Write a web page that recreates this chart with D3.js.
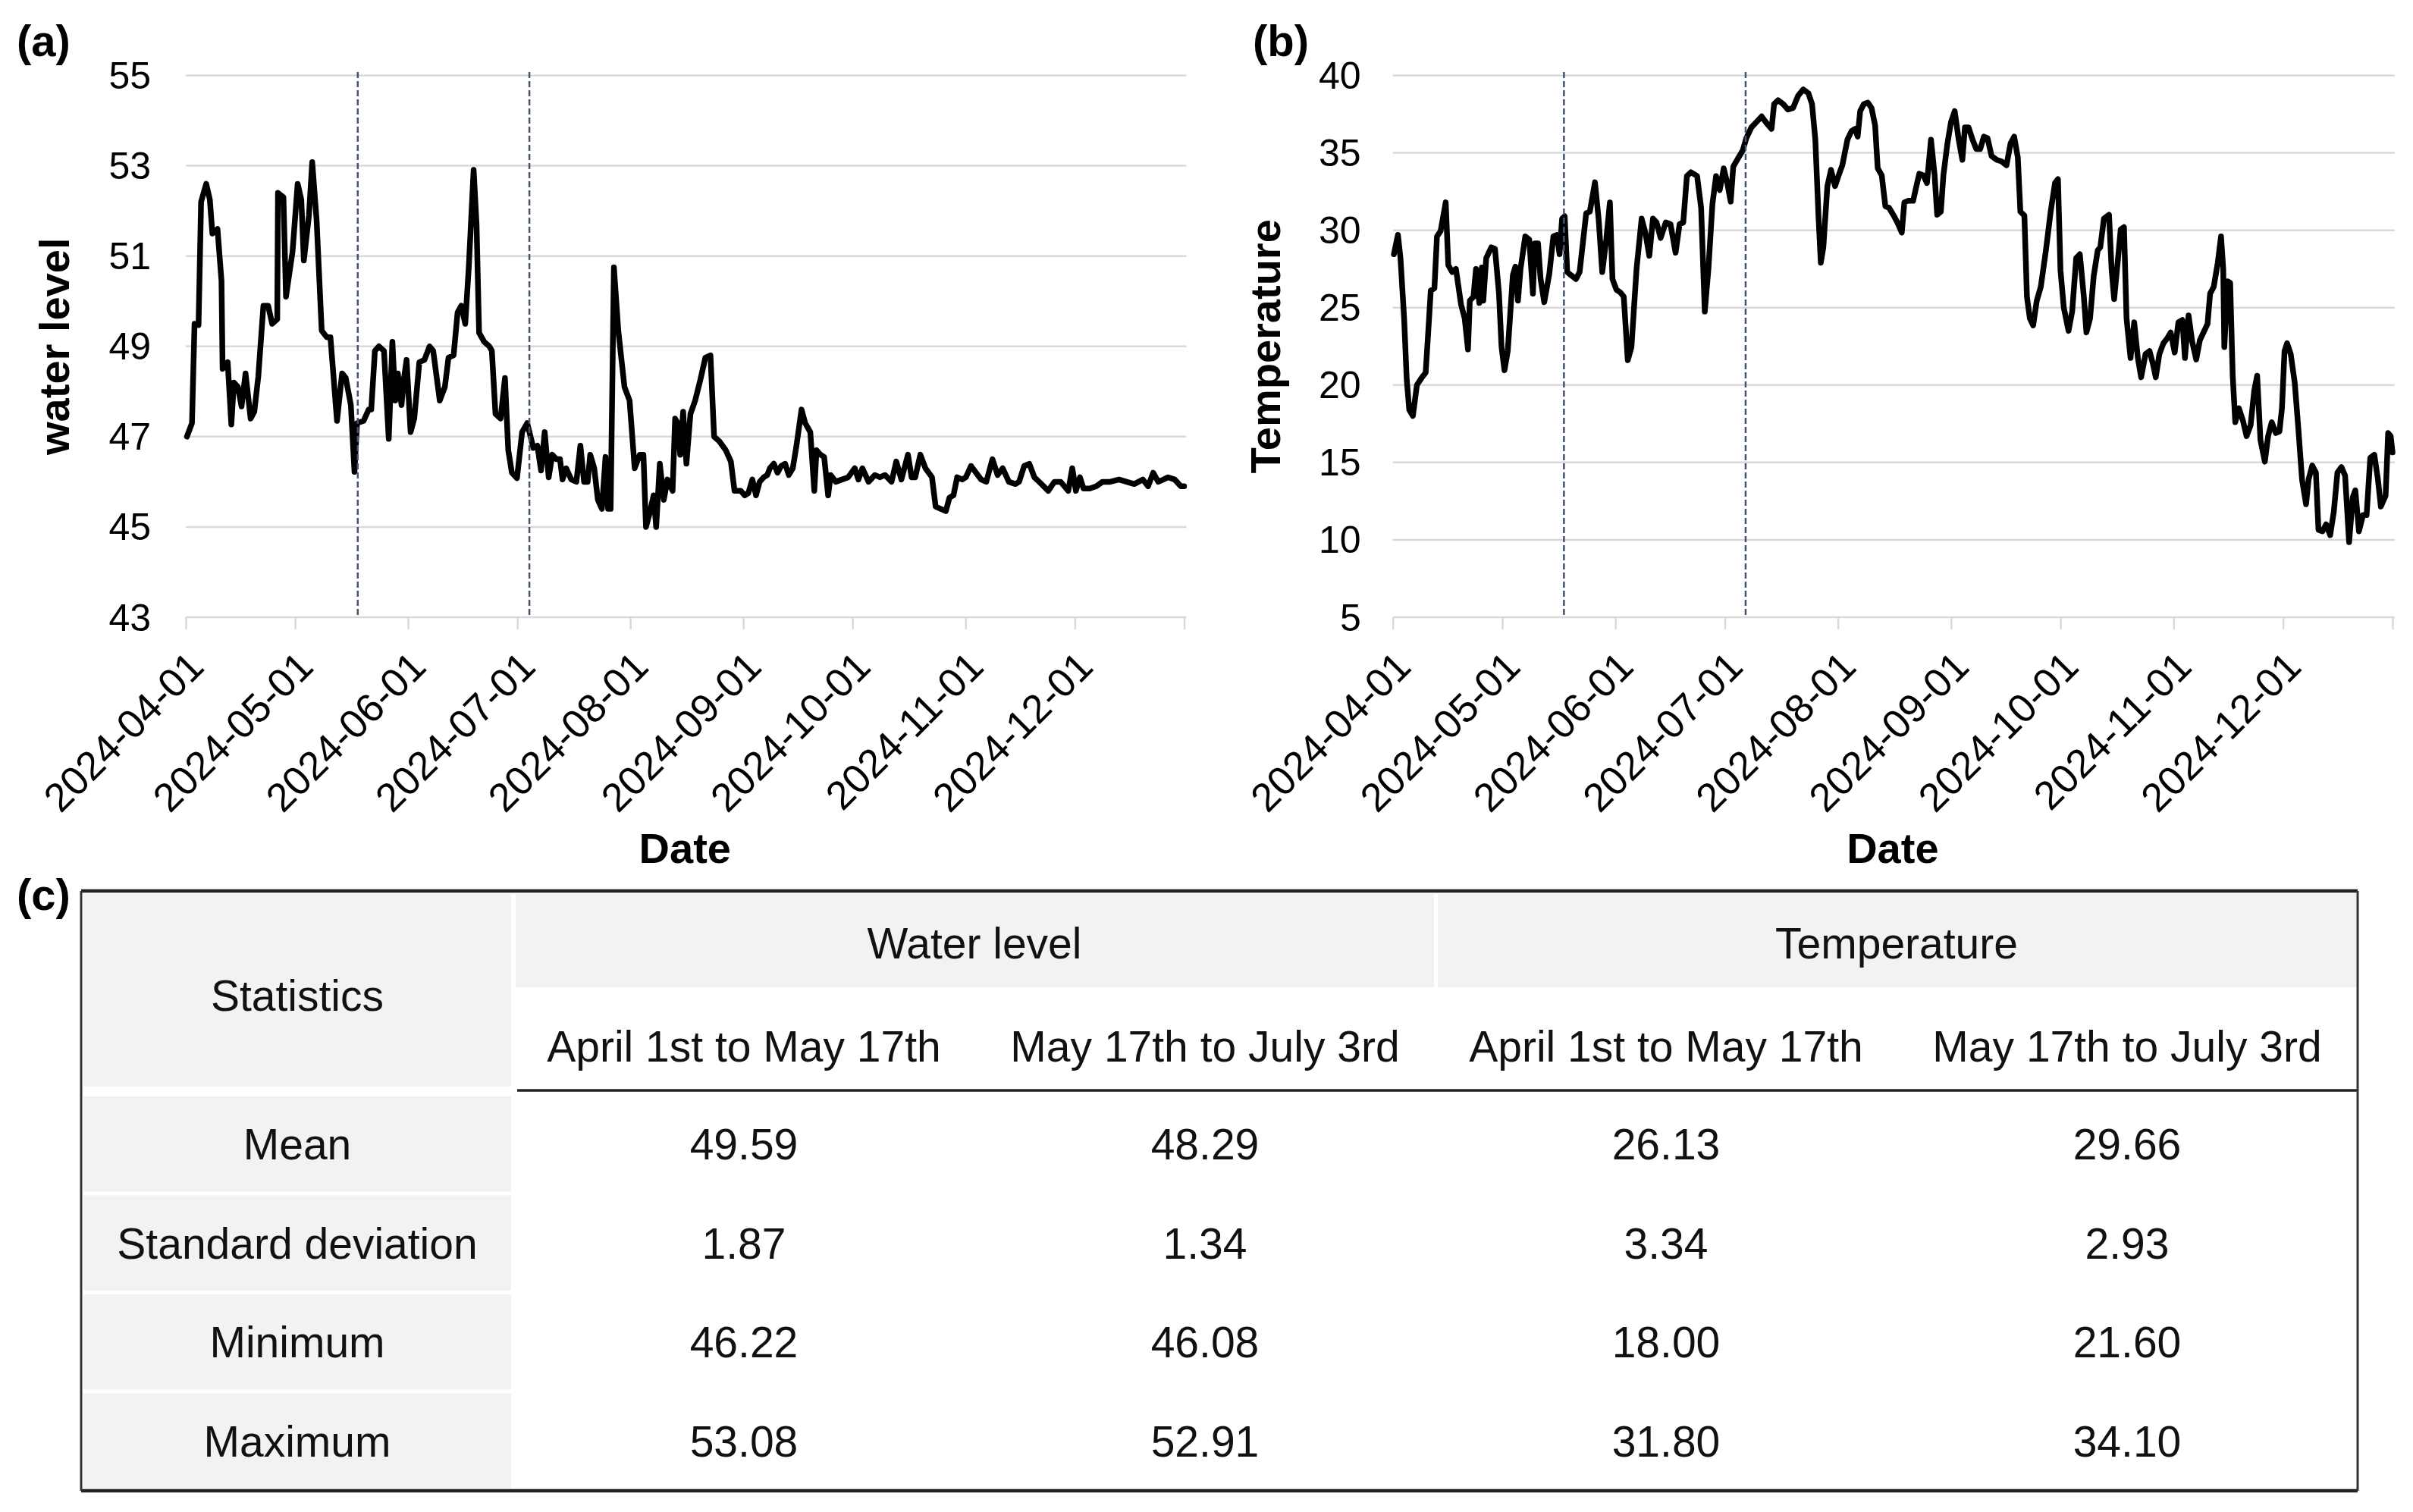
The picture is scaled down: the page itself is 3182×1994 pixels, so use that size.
<!DOCTYPE html>
<html><head><meta charset="utf-8">
<script src="https://cdn.jsdelivr.net/npm/d3@7"></script>
<style>
body{margin:0;background:#fff}
svg{display:block}
text{font-family:"Liberation Sans",Arial,Helvetica,sans-serif}
</style>
</head><body>
<svg id="chart" width="3182" height="1994"></svg>
<script>
// ---------- DATA (days counted from 2024-04-01) ----------
const levelDay = [0.3,1.7,2.4,3.5,4.2,5.6,6.6,7.3,8.7,9.8,10.1,11.5,12.5,13.2,14.3,15.3,16.4,17.8,18.8,19.9,21.3,22.6,23.7,25.1,25.3,26.8,27.5,29.3,30.7,31.7,32.4,33.8,34.7,35.9,37.3,38.7,39.7,41.5,42.9,43.9,45.3,46.3,47.0,48.8,50.2,50.9,51.9,53.0,54.4,55.7,56.7,57.5,58.2,59.2,59.9,60.6,61.7,62.7,64.1,65.5,66.9,67.9,69.7,71.1,72.1,73.5,74.6,75.6,76.7,77.7,79.0,79.8,80.5,81.9,83.3,84.0,85.0,86.4,87.6,88.5,89.5,90.9,92.3,93.7,95.4,96.5,97.5,98.5,99.6,100.6,101.7,102.7,103.4,104.4,105.8,107.2,108.3,109.3,110.3,111.0,112.1,113.1,114.2,115.2,115.9,116.6,117.5,118.7,120.4,121.8,123.2,124.6,125.6,126.3,127.3,128.4,129.1,130.1,131.2,132.2,133.6,134.3,135.0,135.7,136.5,137.4,138.5,139.8,141.2,142.6,144.0,145.0,146.4,148.2,149.6,150.6,152.3,153.4,154.4,155.5,156.5,157.5,158.6,159.6,160.3,161.4,162.4,163.4,164.5,165.5,166.6,167.6,169.0,170.0,171.4,172.5,173.1,174.2,175.2,176.3,177.0,178.4,180.1,181.8,183.6,184.6,185.7,187.4,189.1,190.5,191.9,193.7,195.0,196.4,198.2,199.2,200.2,201.6,203.0,204.8,205.8,207.2,208.6,209.6,210.7,211.7,213.1,214.1,215.5,216.9,218.3,219.7,221.4,222.8,224.2,225.9,227.7,228.7,230.1,231.5,232.9,234.2,236.7,238.4,240.1,242.2,243.3,244.3,245.4,246.4,248.1,249.9,251.6,253.7,256.1,258.2,260.3,262.7,264.1,265.5,266.9,268.3,269.6,271.4,273.1,274.0];
const levelValue = [47.0,47.3,49.5,49.47,52.2,52.6,52.25,51.5,51.6,50.45,48.5,48.65,47.27,48.2,48.1,47.67,48.4,47.4,47.55,48.33,49.9,49.9,49.5,49.6,52.4,52.3,50.1,51.1,52.6,52.25,50.9,51.9,53.08,51.8,49.35,49.2,49.2,47.35,48.4,48.3,47.7,46.22,47.3,47.35,47.6,47.6,48.9,49.0,48.9,46.95,49.1,47.8,48.4,47.7,48.3,48.7,47.1,47.4,48.65,48.7,49.0,48.9,47.8,48.1,48.75,48.8,49.75,49.9,49.5,50.8,52.91,51.7,49.3,49.1,49.0,48.9,47.5,47.4,48.3,46.7,46.2,46.08,47.1,47.3,46.75,46.8,46.25,47.1,46.1,46.6,46.5,46.5,46.05,46.3,46.05,46.0,46.8,46.0,46.0,46.6,46.3,45.6,45.4,46.55,45.4,45.4,50.75,49.35,48.1,47.8,46.3,46.6,46.6,45.0,45.3,45.7,45.0,46.4,45.6,46.05,45.8,47.4,47.3,46.6,47.55,46.4,47.5,47.8,48.25,48.75,48.8,47.0,46.9,46.7,46.45,45.8,45.8,45.7,45.75,46.05,45.7,46.0,46.1,46.15,46.3,46.4,46.2,46.35,46.4,46.15,46.3,46.8,47.6,47.3,47.1,45.8,46.7,46.6,46.55,45.7,46.15,46.0,46.05,46.1,46.3,46.05,46.3,46.0,46.15,46.1,46.15,46.0,46.45,46.05,46.6,46.1,46.1,46.6,46.3,46.1,45.45,45.4,45.35,45.65,45.7,46.1,46.05,46.1,46.35,46.2,46.05,46.0,46.5,46.15,46.3,46.0,45.95,46.0,46.35,46.4,46.1,46.0,45.8,46.0,46.0,45.8,46.3,45.8,46.1,45.85,45.85,45.9,46.0,46.0,46.05,46.0,45.95,46.05,45.9,46.2,46.0,46.05,46.1,46.05,45.9,45.9];

const tempDay = [0.3,1.4,2.1,3.1,3.8,4.5,5.5,6.6,8.0,9.0,9.7,10.4,11.4,12.1,13.1,14.5,15.2,16.3,17.3,18.7,19.7,20.6,21.1,22.1,22.8,23.7,24.4,24.8,25.6,27.0,28.0,29.1,29.8,30.6,31.5,32.9,33.6,34.3,35.0,36.3,37.4,38.4,38.9,39.8,40.5,41.5,42.9,44.0,45.0,45.7,46.4,47.1,47.8,48.8,50.2,51.2,53.0,54.0,55.4,56.4,57.4,58.5,59.5,60.2,61.3,62.3,63.3,64.4,65.4,66.8,68.2,69.2,70.3,71.3,72.3,73.4,74.8,76.1,77.5,78.6,79.6,80.6,81.7,83.4,84.5,85.5,86.5,87.6,88.6,89.6,90.7,91.7,92.6,93.3,94.5,95.9,96.9,98.3,99.7,101.1,102.5,103.8,104.5,105.6,107.0,108.3,109.7,111.1,112.5,113.9,114.9,115.8,116.7,117.3,118.0,119.1,120.1,121.2,122.2,123.2,124.6,125.7,126.7,127.4,128.1,129.1,130.2,131.2,132.2,132.9,134.0,135.0,136.0,137.4,138.5,139.5,140.2,141.2,142.6,143.7,144.3,145.4,146.4,147.5,148.5,149.2,150.2,150.9,152.0,153.0,154.0,155.1,156.1,156.8,157.8,158.9,159.9,161.0,162.0,163.0,164.1,165.5,166.8,168.2,169.3,170.3,171.3,172.0,173.1,173.8,174.6,175.5,176.5,177.6,179.0,180.3,181.5,182.3,183.0,183.9,185.2,186.2,187.3,188.3,189.4,190.1,191.1,192.1,193.2,193.9,194.9,196.3,197.0,197.7,198.7,199.5,200.4,201.1,202.2,203.2,204.2,205.1,206.3,207.4,208.4,209.1,210.1,211.2,212.2,213.2,214.3,215.3,216.4,217.1,218.1,219.1,220.2,221.2,222.2,223.3,224.0,225.0,226.1,227.0,227.6,227.9,228.8,229.5,230.2,230.9,231.9,233.0,234.0,235.1,236.1,236.9,237.8,239.0,239.9,240.9,242.0,243.0,243.7,244.4,245.1,246.1,247.2,248.2,249.2,250.3,251.0,252.0,253.0,253.7,254.8,255.8,256.9,257.9,258.9,260.0,261.0,262.1,263.1,263.8,264.8,265.9,266.9,267.9,269.0,270.0,270.8,272.1,272.8,273.5,274.0];
const tempValue = [28.45,29.7,28.2,24.3,20.4,18.4,18.0,20.0,20.5,20.8,23.4,26.1,26.25,29.6,29.95,31.8,27.75,27.3,27.5,25.2,24.3,22.3,25.45,25.7,27.5,25.3,27.6,25.45,28.2,28.9,28.8,25.9,22.45,20.95,22.2,27.1,27.65,25.45,27.5,29.6,29.4,25.9,29.15,29.15,26.85,25.35,27.2,29.6,29.7,28.45,30.75,30.9,27.3,27.1,26.85,27.3,31.1,31.2,33.1,30.75,27.3,29.4,31.8,26.85,26.15,26.0,25.7,21.6,22.45,27.5,30.75,29.85,28.35,30.75,30.5,29.5,30.5,30.4,28.55,30.4,30.5,33.5,33.75,33.5,31.45,24.75,27.5,31.7,33.5,32.6,34.0,33.0,31.85,34.1,34.6,35.15,35.95,36.65,37.0,37.35,36.9,36.55,38.15,38.4,38.15,37.8,37.9,38.7,39.1,38.85,38.15,35.85,30.75,27.9,28.9,32.85,33.9,32.85,33.55,34.2,35.85,36.4,36.55,36.05,37.7,38.15,38.25,37.9,36.75,34.0,33.55,31.55,31.45,30.9,30.4,29.85,31.8,31.9,31.9,33.05,33.65,33.55,33.05,35.85,33.55,31.0,31.2,33.55,35.6,37.0,37.7,35.85,34.55,36.65,36.65,35.85,35.25,35.25,36.05,35.95,34.8,34.55,34.45,34.2,35.6,36.05,34.7,31.2,30.95,25.7,24.3,23.85,25.45,26.35,28.7,31.2,33.05,33.3,27.4,25.0,23.5,24.75,28.2,28.45,25.7,23.4,24.3,27.05,28.7,28.9,30.75,31.0,27.5,25.55,28.0,30.05,30.2,24.3,21.75,24.05,21.75,20.5,22.0,22.2,21.3,20.5,22.0,22.7,23.0,23.4,22.1,24.05,24.2,21.75,24.5,22.8,21.65,22.9,23.4,23.95,25.9,26.35,27.9,29.6,27.5,22.45,26.7,26.6,20.6,17.6,18.5,17.7,16.7,17.4,19.65,20.6,16.45,15.05,16.7,17.6,16.9,17.0,18.5,22.2,22.7,22.0,20.15,17.15,13.9,12.3,13.9,14.8,14.35,10.65,10.55,11.0,10.3,11.8,14.35,14.7,14.15,9.85,12.75,13.2,10.55,11.6,11.6,15.3,15.5,13.9,12.15,12.85,16.9,16.7,15.65];

const levelTicks = [43,45,47,49,51,53,55];
const tempTicks = [5,10,15,20,25,30,35,40];
const levelMarkDays = [47.2, 94.3];
const tempMarkDays = [46.9, 96.7];

const statNames = ["Mean","Standard deviation","Minimum","Maximum"];
const groupNames = ["Water level","Temperature"];
const periodNames = ["April 1st to May 17th","May 17th to July 3rd"];
const meanRow = [49.59,48.29,26.13,29.66];
const sdRow = [1.87,1.34,3.34,2.93];
const minRow = [46.22,46.08,18.00,21.60];
const maxRow = [53.08,52.91,31.80,34.10];

// ---------- DRAWING ----------
const svg = d3.select("#chart");
svg.append("rect").attr("width",3182).attr("height",1994).attr("fill","#fff");
const t0 = Date.UTC(2024,3,1);
const tEnd = Date.UTC(2024,11,31);
const toDate = d => new Date(t0 + d*864e5);
const months = d3.utcMonth.range(new Date(t0), new Date(Date.UTC(2024,11,2)));
const fmt = d3.utcFormat("%Y-%m-%d");

function panel(o){
  const g = svg.append("g");
  const x = d3.scaleUtc().domain([new Date(t0), new Date(tEnd)]).range([o.left, o.right]);
  const y = d3.scaleLinear().domain(o.yDomain).range([814, 99.5]);
  g.selectAll("line.grid").data(o.ticks).join("line")
    .attr("x1",o.left).attr("x2",o.right+3)
    .attr("y1",d=>y(d)).attr("y2",d=>y(d))
    .attr("stroke","#d9d9d9").attr("stroke-width",2.5);
  g.selectAll("text.yl").data(o.ticks).join("text")
    .attr("x",o.left-o.labelGap).attr("y",d=>y(d)).attr("dy","0.35em")
    .attr("text-anchor","end").attr("font-size",50).attr("fill","#000")
    .text(d=>d);
  const ax = g.append("g").attr("transform","translate(0,814)")
    .call(d3.axisBottom(x).tickValues([...months, new Date(tEnd)]).tickSize(16).tickPadding(0)
      .tickFormat((d,i)=> i<months.length ? fmt(d) : ""));
  ax.select(".domain").remove();
  ax.selectAll(".tick line").attr("stroke","#d9d9d9").attr("stroke-width",2.5);
  ax.attr("font-size",53).attr("font-family",'"Liberation Sans",Arial,sans-serif');
  ax.selectAll(".tick text").attr("fill","#000").attr("text-anchor","end")
    .attr("x",0).attr("y",0).attr("dy","0.35em")
    .attr("transform","translate(13,55) rotate(-45)");
  const pts = o.days.map((d,i)=>({d, v:o.values[i]}));
  g.append("path").datum(pts)
    .attr("d", d3.line().x(p=>x(toDate(p.d))).y(p=>y(p.v)))
    .attr("fill","none").attr("stroke","#000").attr("stroke-width",7.5)
    .attr("stroke-linejoin","round").attr("stroke-linecap","round");
  g.selectAll("line.mark").data(o.marks).join("line")
    .attr("x1",d=>x(toDate(d))).attr("x2",d=>x(toDate(d)))
    .attr("y1",95).attr("y2",814)
    .attr("stroke","#44546a").attr("stroke-width",2.5).attr("stroke-dasharray","8,4");
  g.append("text").attr("transform",`translate(${o.ylabelX},${(814+99.5)/2}) rotate(-90)`)
    .attr("text-anchor","middle").attr("font-size",56).attr("font-weight","bold").text(o.ylabel);
  g.append("text").attr("x",(o.left+o.right)/2).attr("y",1138)
    .attr("text-anchor","middle").attr("font-size",56).attr("font-weight","bold").text("Date");
  g.append("text").attr("x",o.letterX).attr("y",74)
    .attr("font-size",58).attr("font-weight","bold").text(o.letter);
}

panel({left:245, right:1561.5, yDomain:[43,55], ticks:levelTicks, days:levelDay, values:levelValue,
  marks:levelMarkDays, ylabel:"water level", ylabelX:91, labelGap:46, letter:"(a)", letterX:22});
panel({left:1836.7, right:3155, yDomain:[5,40], ticks:tempTicks, days:tempDay, values:tempValue,
  marks:tempMarkDays, ylabel:"Temperature", ylabelX:1688, labelGap:42, letter:"(b)", letterX:1652});

// ---------- TABLE ----------
const tb = svg.append("g");
const tL = 107, tR = 3109, tTop = 1175, tBot = 1966, statR = 677;
const h1 = 1303, h2 = 1438, dataTop = 1444;
const colX = d3.scaleBand().domain(d3.range(4)).range([statR, tR]);
const rowY = d3.scaleBand().domain(d3.range(4)).range([dataTop, tBot]);
const rows = [meanRow, sdRow, minRow, maxRow];
const fs = 57;
tb.append("rect").attr("x",tL+3).attr("y",tTop+4).attr("width",statR-tL-6).attr("height",h2-tTop-9).attr("fill","#f2f2f2");
groupNames.forEach((gname,i)=>{
  const x0 = colX(i*2), w = colX.bandwidth()*2;
  tb.append("rect").attr("x",x0+3).attr("y",tTop+4).attr("width",w-5).attr("height",h1-tTop-5).attr("fill","#f2f2f2");
  tb.append("text").attr("x",x0+w/2).attr("y",1244).attr("dy","0.35em").attr("text-anchor","middle")
    .attr("font-size",fs).attr("fill","#111").text(gname);
  periodNames.forEach((p,j)=>{
    const c = i*2+j;
    tb.append("text").attr("x",colX(c)+colX.bandwidth()/2).attr("y",1380).attr("dy","0.35em").attr("text-anchor","middle")
      .attr("font-size",fs).attr("fill","#111").text(p);
  });
});
tb.append("text").attr("x",(tL+statR)/2).attr("y",1313).attr("dy","0.35em").attr("text-anchor","middle")
  .attr("font-size",fs).attr("fill","#111").text("Statistics");
statNames.forEach((s,r)=>{
  tb.append("rect").attr("x",tL+3).attr("y",rowY(r)+2).attr("width",statR-tL-6).attr("height",rowY.bandwidth()-5).attr("fill","#f2f2f2");
  tb.append("text").attr("x",(tL+statR)/2).attr("y",rowY(r)+rowY.bandwidth()/2).attr("dy","0.35em").attr("text-anchor","middle")
    .attr("font-size",fs).attr("fill","#111").text(s);
  rows[r].forEach((v,c)=>{
    tb.append("text").attr("x",colX(c)+colX.bandwidth()/2).attr("y",rowY(r)+rowY.bandwidth()/2).attr("dy","0.35em")
      .attr("text-anchor","middle").attr("font-size",fs).attr("fill","#111").text(v.toFixed(2));
  });
});
tb.append("line").attr("x1",statR+5).attr("x2",tR).attr("y1",h2).attr("y2",h2).attr("stroke","#222").attr("stroke-width",3.5);
tb.append("line").attr("x1",tL).attr("x2",tR).attr("y1",tTop).attr("y2",tTop).attr("stroke","#222").attr("stroke-width",4.5);
tb.append("line").attr("x1",tL).attr("x2",tR).attr("y1",tBot).attr("y2",tBot).attr("stroke","#222").attr("stroke-width",4.5);
tb.append("line").attr("x1",tL).attr("x2",tL).attr("y1",tTop).attr("y2",tBot).attr("stroke","#333").attr("stroke-width",3);
tb.append("line").attr("x1",tR).attr("x2",tR).attr("y1",tTop).attr("y2",tBot).attr("stroke","#333").attr("stroke-width",3);
svg.append("text").attr("x",22).attr("y",1200).attr("font-size",58).attr("font-weight","bold").text("(c)");
</script>
</body></html>
